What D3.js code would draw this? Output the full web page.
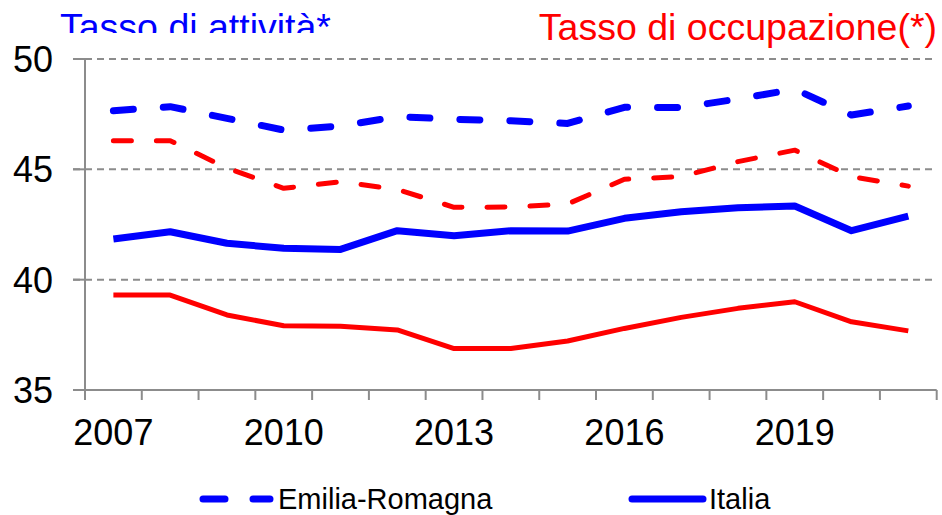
<!DOCTYPE html>
<html><head><meta charset="utf-8">
<script src="https://cdn.jsdelivr.net/npm/d3@7"></script>
<style>html,body{margin:0;padding:0;background:#fff;}svg{display:block;font-family:"Liberation Sans",Arial,sans-serif;}</style>
</head><body>
<svg id="c" width="942" height="515"></svg>
<script>
const years = [2007,2008,2009,2010,2011,2012,2013,2014,2015,2016,2017,2018,2019,2020,2021];
const yearLabels = [2007,2010,2013,2016,2019];
const yTicks = [35,40,45,50];
const erAttivita = [47.66,47.84,47.31,46.78,46.96,47.39,47.27,47.2,47.08,47.81,47.8,48.19,48.63,47.46,47.87];
const erOccupazione = [46.3,46.3,45.06,44.14,44.44,44.09,43.28,43.29,43.43,44.55,44.67,45.35,45.87,44.67,44.24];
const itAttivita = [41.84,42.17,41.65,41.42,41.37,42.22,41.99,42.22,42.2,42.78,43.08,43.26,43.34,42.22,42.88];
const itOccupazione = [39.3,39.3,38.4,37.91,37.89,37.72,36.88,36.88,37.22,37.79,38.29,38.7,39.0,38.09,37.68];

(function(){
const svg = d3.select("#c");
const pL = 85, pR = 936.7, pT = 59, pB = 390;
const x = d3.scaleBand().domain(years).range([pL, pR]).padding(0);
const y = d3.scaleLinear().domain([35,50]).range([pB, pT]);
const grey = "#8c8c8c";

svg.append("clipPath").attr("id","tc").append("rect").attr("x",0).attr("y",0).attr("width",942).attr("height",33);
svg.append("text").attr("x",60).attr("y",40).attr("clip-path","url(#tc)")
  .attr("font-size",37.5).attr("fill","#0000ff").text("Tasso di attività*");
svg.append("text").attr("x",937).attr("y",40).attr("text-anchor","end")
  .attr("font-size",37.5).attr("fill","#ff0000").text("Tasso di occupazione(*)");

svg.append("g").selectAll("line").data(yTicks.filter(d=>d>35)).join("line")
  .attr("x1",73).attr("x2",pR).attr("y1",d=>y(d)).attr("y2",d=>y(d))
  .attr("stroke",grey).attr("stroke-width",2).attr("stroke-dasharray","7,5");
svg.append("line").attr("x1",pL).attr("x2",pL).attr("y1",pT).attr("y2",pB).attr("stroke",grey).attr("stroke-width",2);
svg.append("line").attr("x1",73).attr("x2",pR).attr("y1",pB).attr("y2",pB).attr("stroke",grey).attr("stroke-width",2);
svg.append("g").selectAll("line").data(yTicks).join("line")
  .attr("x1",73).attr("x2",pL).attr("y1",d=>y(d)).attr("y2",d=>y(d)).attr("stroke",grey).attr("stroke-width",2);
svg.append("g").selectAll("text").data(yTicks).join("text")
  .attr("x",53).attr("y",d=>y(d)).attr("dy","0.36em").attr("text-anchor","end")
  .attr("font-size",36).attr("fill","#000").text(d=>d);
const bounds = years.map(d=>x(d)).concat([pR]);
svg.append("g").selectAll("line").data(bounds).join("line")
  .attr("x1",d=>d).attr("x2",d=>d).attr("y1",pB).attr("y2",pB+10).attr("stroke",grey).attr("stroke-width",2);
svg.append("g").selectAll("text").data(yearLabels).join("text")
  .attr("x",d=>x(d)+x.bandwidth()/2).attr("y",445).attr("text-anchor","middle")
  .attr("font-size",36).attr("fill","#000").text(d=>d);

const line = d3.line().x((d,i)=>x(years[i])+x.bandwidth()/2).y(d=>y(d));
function draw(data,color,w,dash){
  svg.append("path").datum(data).attr("d",line).attr("fill","none").attr("stroke",color)
    .attr("stroke-width",w).attr("stroke-linecap",dash?"round":"butt").attr("stroke-linejoin","round")
    .attr("stroke-dasharray",dash||null);
}
draw(itOccupazione,"#ff0000",5,null);
draw(itAttivita,"#0000ff",7,null);
draw(erOccupazione,"#ff0000",5,"18,25");
draw(erAttivita,"#0000ff",7,"20,30");

svg.append("line").attr("x1",203).attr("x2",270).attr("y1",499).attr("y2",499).attr("stroke","#0000ff")
  .attr("stroke-width",7).attr("stroke-linecap","round").attr("stroke-dasharray","22,28");
svg.append("text").attr("x",278).attr("y",509).attr("font-size",29).attr("fill","#000").text("Emilia-Romagna");
svg.append("line").attr("x1",632).attr("x2",703).attr("y1",499).attr("y2",499).attr("stroke","#0000ff")
  .attr("stroke-width",7).attr("stroke-linecap","round");
svg.append("text").attr("x",709).attr("y",509).attr("font-size",29).attr("fill","#000").text("Italia");
})();
</script>
</body></html>
